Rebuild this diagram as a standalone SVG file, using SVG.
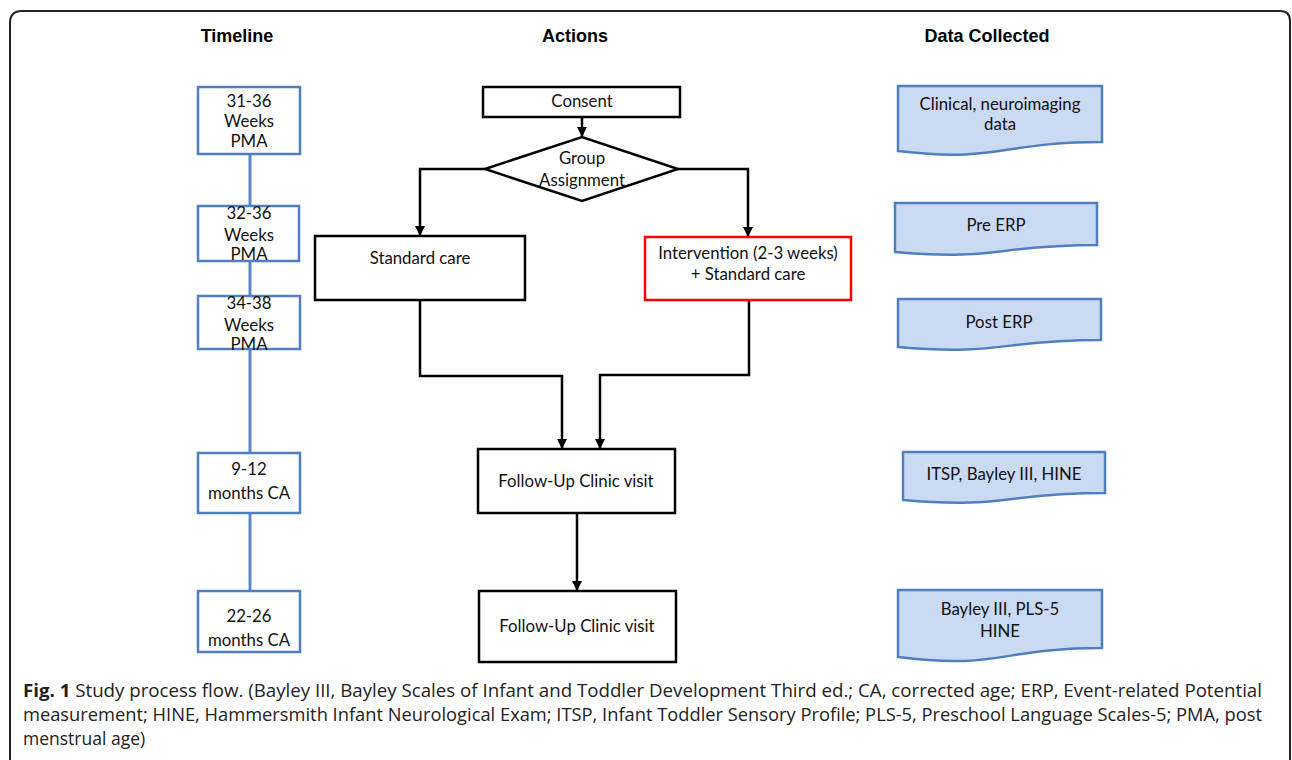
<svg xmlns="http://www.w3.org/2000/svg" width="1292" height="760" viewBox="0 0 1292 760">
<defs>
<marker id="ah" viewBox="0 0 10 10" refX="9" refY="5" markerWidth="4" markerHeight="4" orient="auto" markerUnits="strokeWidth">
<path d="M0,0 L10,5 L0,10 Z" fill="#000"/>
</marker>
</defs>
<style>
.hdr{font-family:"Liberation Sans",Arial,sans-serif;font-weight:bold;font-size:18px;fill:#000;text-anchor:middle}
.t{font-family:"Lato","Open Sans",sans-serif;font-size:16.8px;fill:#111;text-anchor:middle}
.tl{fill:#fff;stroke:#4f7fc0;stroke-width:2.5}
.tline{stroke:#5a86c6;stroke-width:3;fill:none}
.act{fill:#fff;stroke:#000;stroke-width:2.5}
.red{fill:#fff;stroke:#ff0000;stroke-width:2.5}
.doc{fill:#c9daf2;stroke:#4f7fc0;stroke-width:2.5}
.con{stroke:#000;stroke-width:2.5;fill:none}
.cap{font-family:"Open Sans","Noto Sans",sans-serif;font-size:17.5px;fill:#222}
.frame{fill:none;stroke:#222;stroke-width:2}
</style>
<rect width="1292" height="760" fill="#fff"/>
<path class="frame" d="M10,780 V23 Q10,11 22,11 H1280 Q1290,11 1290,21 V780"/>

<text class="hdr" x="237" y="42">Timeline</text>
<text class="hdr" x="575" y="42">Actions</text>
<text class="hdr" x="987" y="42">Data Collected</text>

<g id="timeline-connectors">
<line class="tline" x1="250" y1="154" x2="250" y2="206"/>
<line class="tline" x1="250" y1="261" x2="250" y2="296"/>
<line class="tline" x1="250" y1="349" x2="250" y2="453"/>
<line class="tline" x1="250" y1="513" x2="250" y2="591"/>
</g>

<g id="tl1"><rect class="tl" x="198" y="87" width="102" height="67"/>
<text class="t" x="249" y="107">31-36</text><text class="t" x="249" y="127">Weeks</text><text class="t" x="249" y="147">PMA</text></g>
<g id="tl2"><rect class="tl" x="198" y="206" width="101" height="55"/>
<text class="t" x="249" y="219">32-36</text><text class="t" x="249" y="241">Weeks</text><text class="t" x="249" y="260">PMA</text></g>
<g id="tl3"><rect class="tl" x="198" y="296" width="102" height="53"/>
<text class="t" x="249" y="309">34-38</text><text class="t" x="249" y="331">Weeks</text><text class="t" x="249" y="350">PMA</text></g>
<g id="tl4"><rect class="tl" x="198" y="453" width="102" height="60"/>
<text class="t" x="249" y="475">9-12</text><text class="t" x="249" y="499">months CA</text></g>
<g id="tl5"><rect class="tl" x="198" y="591" width="102" height="61"/>
<text class="t" x="249" y="622">22-26</text><text class="t" x="249" y="646">months CA</text></g>

<g id="connectors">
<line class="con" x1="582" y1="117" x2="582" y2="136" marker-end="url(#ah)"/>
<polyline class="con" points="485,169 420,169 420,235" marker-end="url(#ah)"/>
<polyline class="con" points="678,169 748,169 748,236" marker-end="url(#ah)"/>
<polyline class="con" points="420,300 420,376 562,376 562,448" marker-end="url(#ah)"/>
<polyline class="con" points="749,300 749,375 600,375 600,448" marker-end="url(#ah)"/>
<line class="con" x1="577" y1="513" x2="577" y2="590" marker-end="url(#ah)"/>
</g>

<g id="consent"><rect class="act" x="483" y="87" width="197" height="30"/>
<text class="t" x="582" y="107">Consent</text></g>
<g id="group-assignment"><polygon class="act" points="485,169 582,137 678,169 582,201"/>
<text class="t" x="582" y="164">Group</text><text class="t" x="582" y="186">Assignment</text></g>
<g id="standard-care"><rect class="act" x="315" y="236" width="210" height="64"/>
<text class="t" x="420" y="264">Standard care</text></g>
<g id="intervention"><rect class="red" x="645" y="237" width="206" height="63"/>
<text class="t" x="748" y="259">Intervention (2-3 weeks)</text><text class="t" x="748" y="280">+ Standard care</text></g>
<g id="followup1"><rect class="act" x="478" y="449" width="197" height="64"/>
<text class="t" x="576" y="487">Follow-Up Clinic visit</text></g>
<g id="followup2"><rect class="act" x="479" y="591" width="197" height="71"/>
<text class="t" x="577" y="632">Follow-Up Clinic visit</text></g>

<g id="data1"><path class="doc" d="M898,86 H1102 V142 C1000,142 1000,163 898,151 Z"/>
<text class="t" x="1000" y="110">Clinical, neuroimaging</text><text class="t" x="1000" y="130">data</text></g>
<g id="data2"><path class="doc" d="M895,203 H1097 V245 C996,245 996,261 895,252 Z"/>
<text class="t" x="996" y="231">Pre ERP</text></g>
<g id="data3"><path class="doc" d="M898,299 H1101 V340 C1000,340 1000,356 898,347 Z"/>
<text class="t" x="999" y="328">Post ERP</text></g>
<g id="data4"><path class="doc" d="M903,452 H1105 V493 C1004,493 1004,509 903,500 Z"/>
<text class="t" x="1004" y="480">ITSP, Bayley III, HINE</text></g>
<g id="data5"><path class="doc" d="M898,590 H1102 V648 C1000,648 1000,670 898,657 Z"/>
<text class="t" x="1000" y="615">Bayley III, PLS-5</text><text class="t" x="1000" y="637">HINE</text></g>

<g id="caption">
<text class="cap" x="23" y="697" textLength="1239" lengthAdjust="spacingAndGlyphs"><tspan font-weight="bold">Fig. 1</tspan> Study process flow. (Bayley III, Bayley Scales of Infant and Toddler Development Third ed.; CA, corrected age; ERP, Event-related Potential</text>
<text class="cap" x="23" y="721" textLength="1239" lengthAdjust="spacingAndGlyphs">measurement; HINE, Hammersmith Infant Neurological Exam; ITSP, Infant Toddler Sensory Profile; PLS-5, Preschool Language Scales-5; PMA, post</text>
<text class="cap" x="23" y="745">menstrual age)</text>
</g>
</svg>
